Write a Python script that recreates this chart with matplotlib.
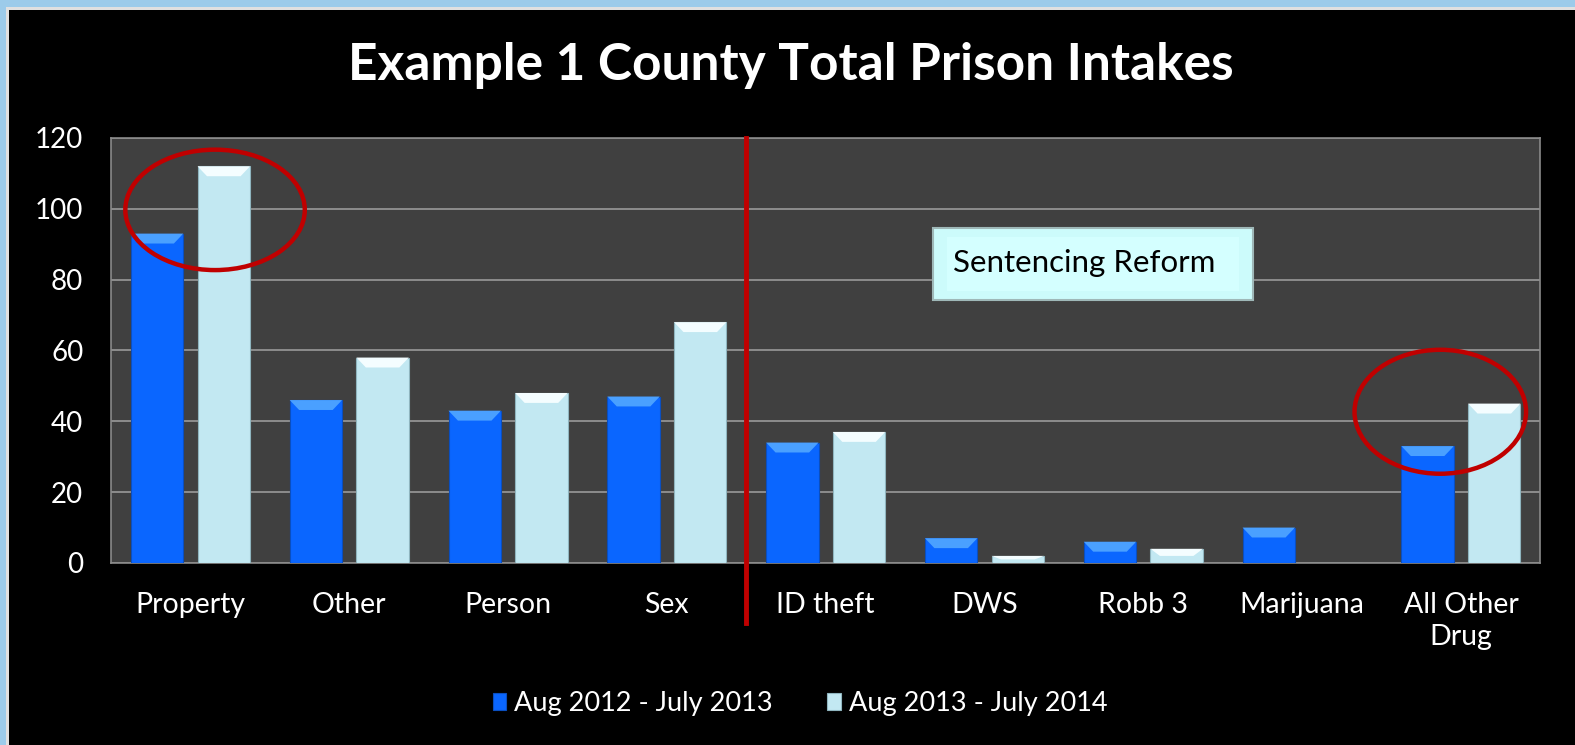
import matplotlib
matplotlib.use('Agg')
import matplotlib.pyplot as plt
from matplotlib.patches import Ellipse, Rectangle, Polygon
import numpy as np

plt.rcParams['font.family'] = ['Lato', 'DejaVu Sans']

categories = ['Property', 'Other', 'Person', 'Sex', 'ID theft', 'DWS', 'Robb 3', 'Marijuana', 'All Other\nDrug']
series_names = ['Aug 2012 - July 2013', 'Aug 2013 - July 2014']
intakes_2013 = [93, 46, 43, 47, 34, 7, 6, 10, 33]
intakes_2014 = [112, 58, 48, 68, 37, 2, 4, 0, 45]
y_ticks = [0, 20, 40, 60, 80, 100, 120]

blue = '#0a66ff'
blue_top = '#4aa0ff'
light = '#c2e8f2'
light_top = '#f4fdff'
red = '#c00000'

fig = plt.figure(figsize=(15.75, 7.45), dpi=100, facecolor='black')
ax = fig.add_axes([0.0705, 0.2443, 0.9075, 0.5705])
ax.set_facecolor('#404040')

x = np.arange(len(categories))
w = 0.33
off = 0.21


def bevel_bars(bars, top_col):
    # lighter trapezoid on top of each bar to fake the 3D bevel
    for b in bars:
        h = b.get_height()
        if h <= 0:
            continue
        x0 = b.get_x()
        bw = b.get_width()
        bev = min(2.8, h * 0.5)
        ins = bw * 0.18
        poly = Polygon([[x0, h], [x0 + bw, h], [x0 + bw - ins, h - bev], [x0 + ins, h - bev]],
                       closed=True, facecolor=top_col, edgecolor='none', zorder=4)
        ax.add_patch(poly)


b1 = ax.bar(x - off, intakes_2013, w, color=blue, edgecolor='#0a4fc0', linewidth=0.8, zorder=3, label=series_names[0])
b2 = ax.bar(x + off, intakes_2014, w, color=light, edgecolor='#8fb5bf', linewidth=0.8, zorder=3, label=series_names[1])
bevel_bars(b1, blue_top)
bevel_bars(b2, light_top)

ax.set_xlim(-0.5, len(categories) - 0.5)
ax.set_ylim(0, 120)
ax.set_yticks(y_ticks)
ax.set_xticks(x)
ax.set_xticklabels(categories, color='white', fontsize=20.5, linespacing=1.3)
ax.tick_params(axis='y', colors='white', labelsize=20, length=0, pad=20)
ax.tick_params(axis='x', colors='white', length=0, pad=21)
for t in ax.get_yticklabels():
    t.set_color('white')
ax.grid(axis='y', color='#9a9a9a', linewidth=1.2, zorder=0)
ax.set_axisbelow(True)
for s in ax.spines.values():
    s.set_color('#8a8a8a')
    s.set_linewidth(1.2)

# red divider between old and new categories
ax.plot([3.5, 3.5], [120, -17], color=red, linewidth=3.5, clip_on=False, zorder=6)

# circles around the highlighted groups
ax.add_patch(Ellipse((0.155, 99.7), 1.13, 34, fill=False, edgecolor=red, linewidth=3.2, clip_on=False, zorder=7))
ax.add_patch(Ellipse((7.87, 42.7), 1.08, 35, fill=False, edgecolor=red, linewidth=3.2, clip_on=False, zorder=7))

# "Sentencing Reform" box
ax.add_patch(Rectangle((0.575, 0.619), 0.224, 0.169, transform=ax.transAxes, facecolor='#ccfbfb',
                       edgecolor='#9fb8b8', linewidth=1.5, zorder=5))
ax.add_patch(Rectangle((0.585, 0.64), 0.204, 0.127, transform=ax.transAxes, facecolor='#d4ffff',
                       edgecolor='none', zorder=5))
ax.text(0.681, 0.706, 'Sentencing Reform', transform=ax.transAxes, ha='center', va='center',
        fontsize=22.5, color='black', zorder=6)

fig.text(0.502, 0.912, 'Example 1 County Total Prison Intakes', ha='center', va='center',
         fontsize=37, fontweight='bold', color='white')

leg = fig.legend(handles=[b1, b2], labels=series_names, loc='center', bbox_to_anchor=(0.508, 0.056),
                 ncol=2, frameon=False, fontsize=19.5, handlelength=0.5, handleheight=0.6,
                 handletextpad=0.3, columnspacing=2.0)
for t in leg.get_texts():
    t.set_color('white')

# window border on top and left
fig.patches.append(Rectangle((0, 0.991), 1, 0.009, transform=fig.transFigure, facecolor='#9ccbea',
                             edgecolor='none', zorder=10))
fig.patches.append(Rectangle((0, 0), 0.004, 1, transform=fig.transFigure, facecolor='#9ccbea',
                             edgecolor='none', zorder=10))
fig.patches.append(Rectangle((0.004, 0), 0.0015, 0.991, transform=fig.transFigure, facecolor='#e0e0e0',
                             edgecolor='none', zorder=10))
fig.patches.append(Rectangle((0.004, 0.987), 0.996, 0.004, transform=fig.transFigure, facecolor='#e0e0e0',
                             edgecolor='none', zorder=10))

fig.savefig('out.png', dpi=100, facecolor='black')
